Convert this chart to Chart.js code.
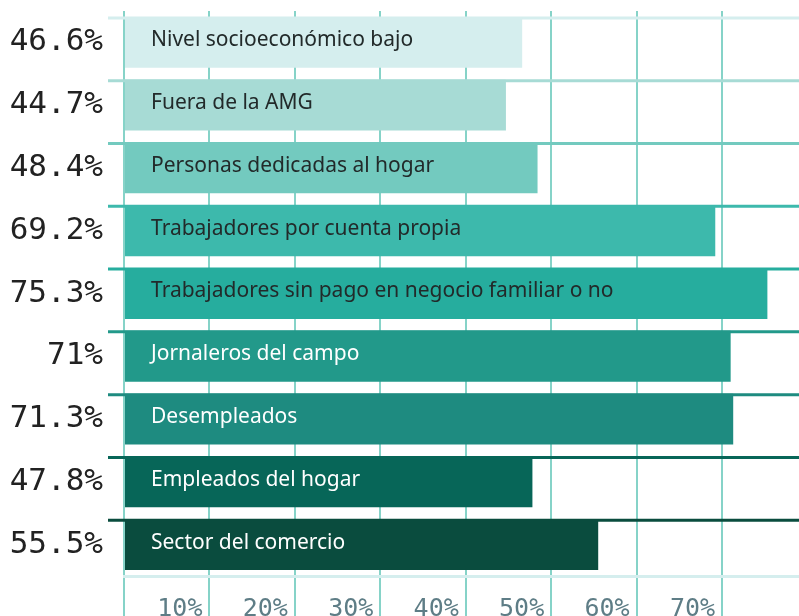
<!DOCTYPE html>
<html>
<head>
<meta charset="utf-8">
<script src="https://cdn.jsdelivr.net/npm/chart.js@4.4.1/dist/chart.umd.min.js"></script>
<style>
  html, body { margin: 0; padding: 0; background: #fff; }
  #wrap { width: 799px; height: 616px; }
</style>
</head>
<body>
<div id="wrap"><canvas id="mychart"></canvas></div>
<script>
const categories = [
    'Nivel socioeconómico bajo',
    'Fuera de la AMG',
    'Personas dedicadas al hogar',
    'Trabajadores por cuenta propia',
    'Trabajadores sin pago en negocio familiar o no',
    'Jornaleros del campo',
    'Desempleados',
    'Empleados del hogar',
    'Sector del comercio'
];
const values = [46.6, 44.7, 48.4, 69.2, 75.3, 71, 71.3, 47.8, 55.5];
const xTicks = [0, 10, 20, 30, 40, 50, 60, 70];

const barColors = ['#d5eeee', '#a7dbd5', '#73cabf', '#3db9ac', '#26ad9e', '#22998a', '#1e8b80', '#076658', '#0a4c3e'];
const textColors = ['#222a2a', '#222a2a', '#222a2a', '#222a2a', '#222a2a', '#ffffff', '#ffffff', '#ffffff', '#ffffff'];

// lineas horizontales en el borde superior de cada barra + nombres dentro
const rowLines = {
    id: 'rowLines',
    beforeDatasetsDraw(chart) {
        const ctx = chart.ctx;
        const area = chart.chartArea;
        const bars = chart.getDatasetMeta(0).data;
        ctx.save();
        bars.forEach((bar, i) => {
            const top = bar.y - bar.height / 2 + 1;
            ctx.strokeStyle = barColors[i];
            ctx.lineWidth = 3;
            ctx.beginPath();
            ctx.moveTo(area.left - 16, top);
            ctx.lineTo(area.right, top);
            ctx.stroke();
        });
        ctx.restore();
    },
    afterDatasetsDraw(chart) {
        const ctx = chart.ctx;
        const bars = chart.getDatasetMeta(0).data;
        ctx.save();
        ctx.font = '21px "Noto Sans"';
        ctx.textAlign = 'left';
        ctx.textBaseline = 'middle';
        bars.forEach((bar, i) => {
            ctx.fillStyle = textColors[i];
            ctx.fillText(categories[i], bar.base + 26, bar.y - 2);
        });
        ctx.restore();
    }
};

const ctx = document.getElementById('mychart');
const myChart = new Chart(ctx, {
    type: 'bar',
    data: {
        labels: categories,
        datasets: [{
            data: values,
            backgroundColor: barColors,
            borderWidth: 0,
            barPercentage: 1,
            categoryPercentage: 0.81
        }]
    },
    plugins: [rowLines],
    options: {
        indexAxis: 'y',
        responsive: true,
        maintainAspectRatio: false,
        animation: false,
        layout: {
            padding: { top: 11, right: 0, left: 0, bottom: 0 }
        },
        scales: {
            x: {
                min: 0,
                max: 79,
                afterBuildTicks: scale => {
                    scale.ticks = xTicks.map(v => ({ value: v }));
                },
                afterFit: scale => {
                    scale.height = 40;
                    scale.paddingLeft = 0;
                    scale.paddingRight = 0;
                },
                grid: {
                    color: '#86d3c8',
                    lineWidth: 2,
                    tickLength: 40,
                    drawTicks: true
                },
                border: {
                    display: true,
                    color: '#d5eeee',
                    width: 3
                },
                ticks: {
                    autoSkip: false,
                    maxRotation: 0,
                    align: 'end',
                    labelOffset: -7,
                    padding: -22,
                    color: '#5e7d86',
                    font: { family: '"DejaVu Sans Mono"', size: 25 },
                    callback: v => v === 0 ? '' : v + '%'
                }
            },
            y: {
                afterFit: scale => {
                    scale.width = 124;
                    scale.paddingTop = 0;
                    scale.paddingBottom = 0;
                },
                grid: { display: false },
                border: { display: false },
                ticks: {
                    padding: 13,
                    color: '#222222',
                    font: { family: '"DejaVu Sans Mono"', size: 31 },
                    callback: (v, i) => values[i] + '%'
                }
            }
        },
        plugins: {
            legend: { display: false },
            tooltip: { enabled: false }
        }
    }
});
</script>
</body>
</html>
